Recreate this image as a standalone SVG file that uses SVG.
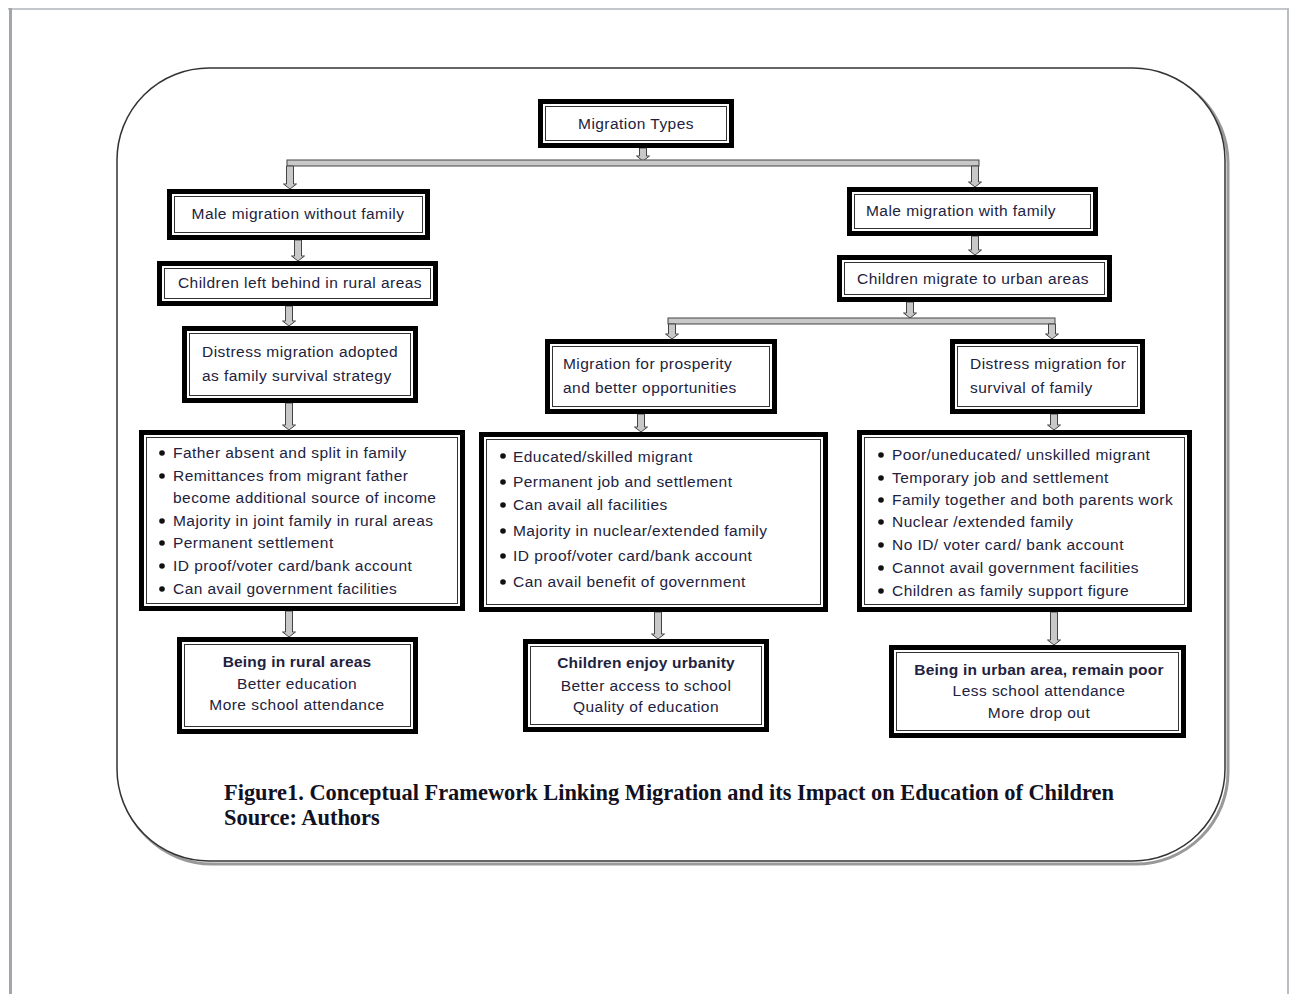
<svg xmlns="http://www.w3.org/2000/svg" width="1290" height="994" viewBox="0 0 1290 994">
<style>
.o{fill:#fff;stroke:#000;stroke-width:5}
.i{fill:none;stroke:#333;stroke-width:1}
.t{font-family:"Liberation Sans",Arial,sans-serif;font-size:15.5px;letter-spacing:0.45px;fill:#22223e}
.c{text-anchor:middle}
.b{font-weight:bold;letter-spacing:0.2px}
.ar{fill:#c8c8c8;stroke:#444;stroke-width:1}
.cap{font-family:"Liberation Serif","Times New Roman",serif;font-weight:bold;font-size:22.4px;fill:#111122}
.dot{fill:#111}
</style>
<rect x="0" y="0" width="1290" height="994" fill="#fff"/>
<g id="page">
<rect x="8" y="8" width="1281" height="2" fill="#c3c6ca"/>
<rect x="9" y="8" width="3" height="986" fill="#a2a6ab"/>
<rect x="1287" y="8" width="2" height="986" fill="#b9bcc0"/>
<rect x="120" y="71" width="1108" height="793" rx="92" ry="92" fill="none" stroke="#999" stroke-width="3"/>
<rect x="117" y="68" width="1108" height="793" rx="92" ry="92" fill="#fff" stroke="#333" stroke-width="1.5"/>
</g>
<g id="connectors">
<path class="ar" d="M639.5,148 L646.5,148 L646.5,156 L649.5,156 L643,161 L636.5,156 L639.5,156 Z"/>
<rect class="ar" x="287" y="160" width="692" height="6"/>
<path class="ar" d="M286.5,166 L293.5,166 L293.5,184 L296.5,184 L290,189 L283.5,184 L286.5,184 Z"/>
<path class="ar" d="M971.5,166 L978.5,166 L978.5,182 L981.5,182 L975,187 L968.5,182 L971.5,182 Z"/>
<path class="ar" d="M294.5,240 L301.5,240 L301.5,256 L304.5,256 L298,261 L291.5,256 L294.5,256 Z"/>
<path class="ar" d="M971.5,236 L978.5,236 L978.5,250 L981.5,250 L975,255 L968.5,250 L971.5,250 Z"/>
<path class="ar" d="M285.5,306 L292.5,306 L292.5,321 L295.5,321 L289,326 L282.5,321 L285.5,321 Z"/>
<path class="ar" d="M906.5,302 L913.5,302 L913.5,313 L916.5,313 L910,318 L903.5,313 L906.5,313 Z"/>
<rect class="ar" x="668" y="318" width="387" height="6"/>
<path class="ar" d="M668.5,324 L675.5,324 L675.5,334 L678.5,334 L672,339 L665.5,334 L668.5,334 Z"/>
<path class="ar" d="M1048.5,324 L1055.5,324 L1055.5,334 L1058.5,334 L1052,339 L1045.5,334 L1048.5,334 Z"/>
<path class="ar" d="M285.5,403 L292.5,403 L292.5,425 L295.5,425 L289,430 L282.5,425 L285.5,425 Z"/>
<path class="ar" d="M637.5,414 L644.5,414 L644.5,427 L647.5,427 L641,432 L634.5,427 L637.5,427 Z"/>
<path class="ar" d="M1050.5,414 L1057.5,414 L1057.5,425 L1060.5,425 L1054,430 L1047.5,425 L1050.5,425 Z"/>
<path class="ar" d="M285.5,611 L292.5,611 L292.5,632 L295.5,632 L289,637 L282.5,632 L285.5,632 Z"/>
<path class="ar" d="M654.5,612 L661.5,612 L661.5,634 L664.5,634 L658,639 L651.5,634 L654.5,634 Z"/>
<path class="ar" d="M1050.5,612 L1057.5,612 L1057.5,640 L1060.5,640 L1054,645 L1047.5,640 L1050.5,640 Z"/>
</g>
<g id="migration-types">
<rect class="o" x="540.5" y="101.5" width="191" height="44"/><rect class="i" x="545.5" y="106.5" width="181" height="34"/>
<text class="t c" x="636" y="129">Migration Types</text>
</g>
<g id="male-without-family">
<rect class="o" x="169.5" y="191.5" width="258" height="46"/><rect class="i" x="174.5" y="196.5" width="248" height="36"/>
<text class="t c" x="298" y="219">Male migration without family</text>
</g>
<g id="male-with-family">
<rect class="o" x="849.5" y="189.5" width="246" height="44"/><rect class="i" x="854.5" y="194.5" width="236" height="34"/>
<text class="t" x="866" y="216">Male migration with family</text>
</g>
<g id="children-left-behind">
<rect class="o" x="159.5" y="263.5" width="276" height="40"/><rect class="i" x="164.5" y="268.5" width="266" height="30"/>
<text class="t c" x="300" y="288">Children left behind in rural areas</text>
</g>
<g id="children-migrate">
<rect class="o" x="839.5" y="257.5" width="270" height="42"/><rect class="i" x="844.5" y="262.5" width="260" height="32"/>
<text class="t c" x="973" y="284">Children migrate to urban areas</text>
</g>
<g id="distress-survival-strategy">
<rect class="o" x="184.5" y="328.5" width="231" height="72"/><rect class="i" x="189.5" y="333.5" width="221" height="62"/>
<text class="t" x="202" y="357">Distress migration adopted</text>
<text class="t" x="202" y="381">as family survival strategy</text>
</g>
<g id="prosperity">
<rect class="o" x="547.5" y="341.5" width="227" height="70"/><rect class="i" x="552.5" y="346.5" width="217" height="60"/>
<text class="t" x="563" y="369">Migration for prosperity</text>
<text class="t" x="563" y="393">and better opportunities</text>
</g>
<g id="distress-family">
<rect class="o" x="952.5" y="341.5" width="190" height="70"/><rect class="i" x="957.5" y="346.5" width="180" height="60"/>
<text class="t" x="970" y="369">Distress migration for</text>
<text class="t" x="970" y="393">survival of family</text>
</g>
<g id="rural-features">
<rect class="o" x="141.5" y="432.5" width="321" height="176"/><rect class="i" x="146.5" y="437.5" width="311" height="166"/>
<circle class="dot" cx="162" cy="453" r="2.8"/><text class="t" x="173" y="458">Father absent and split in family</text>
<circle class="dot" cx="162" cy="476" r="2.8"/><text class="t" x="173" y="481">Remittances from migrant father</text>
<text class="t" x="173" y="503">become additional source of income</text>
<circle class="dot" cx="162" cy="521" r="2.8"/><text class="t" x="173" y="526">Majority in joint family in rural areas</text>
<circle class="dot" cx="162" cy="543" r="2.8"/><text class="t" x="173" y="548">Permanent settlement</text>
<circle class="dot" cx="162" cy="566" r="2.8"/><text class="t" x="173" y="571">ID proof/voter card/bank account</text>
<circle class="dot" cx="162" cy="589" r="2.8"/><text class="t" x="173" y="594">Can avail government facilities</text>
</g>
<g id="prosperity-features">
<rect class="o" x="481.5" y="434.5" width="344" height="175"/><rect class="i" x="486.5" y="439.5" width="334" height="165"/>
<circle class="dot" cx="503" cy="456" r="2.8"/><text class="t" x="513" y="462">Educated/skilled migrant</text>
<circle class="dot" cx="503" cy="482" r="2.8"/><text class="t" x="513" y="487">Permanent job and settlement</text>
<circle class="dot" cx="503" cy="505" r="2.8"/><text class="t" x="513" y="510">Can avail all facilities</text>
<circle class="dot" cx="503" cy="531" r="2.8"/><text class="t" x="513" y="536">Majority in nuclear/extended family</text>
<circle class="dot" cx="503" cy="556" r="2.8"/><text class="t" x="513" y="561">ID proof/voter card/bank account</text>
<circle class="dot" cx="503" cy="582" r="2.8"/><text class="t" x="513" y="587">Can avail benefit of government</text>
</g>
<g id="distress-features">
<rect class="o" x="859.5" y="432.5" width="330" height="177"/><rect class="i" x="864.5" y="437.5" width="320" height="167"/>
<circle class="dot" cx="881" cy="455" r="2.8"/><text class="t" x="892" y="460">Poor/uneducated/ unskilled migrant</text>
<circle class="dot" cx="881" cy="478" r="2.8"/><text class="t" x="892" y="483">Temporary job and settlement</text>
<circle class="dot" cx="881" cy="500" r="2.8"/><text class="t" x="892" y="505">Family together and both parents work</text>
<circle class="dot" cx="881" cy="522" r="2.8"/><text class="t" x="892" y="527">Nuclear /extended family</text>
<circle class="dot" cx="881" cy="545" r="2.8"/><text class="t" x="892" y="550">No ID/ voter card/ bank account</text>
<circle class="dot" cx="881" cy="568" r="2.8"/><text class="t" x="892" y="573">Cannot avail government facilities</text>
<circle class="dot" cx="881" cy="591" r="2.8"/><text class="t" x="892" y="596">Children as family support figure</text>
</g>
<g id="rural-outcome">
<rect class="o" x="179.5" y="639.5" width="236" height="92"/><rect class="i" x="184.5" y="644.5" width="226" height="82"/>
<text class="t c b" x="297" y="667">Being in rural areas</text>
<text class="t c" x="297" y="689">Better education</text>
<text class="t c" x="297" y="710">More school attendance</text>
</g>
<g id="urbanity-outcome">
<rect class="o" x="525.5" y="641.5" width="241" height="88"/><rect class="i" x="530.5" y="646.5" width="231" height="78"/>
<text class="t c b" x="646" y="668">Children enjoy urbanity</text>
<text class="t c" x="646" y="691">Better access to school</text>
<text class="t c" x="646" y="712">Quality of education</text>
</g>
<g id="urban-poor-outcome">
<rect class="o" x="891.5" y="647.5" width="292" height="88"/><rect class="i" x="896.5" y="652.5" width="282" height="78"/>
<text class="t c b" x="1039" y="675">Being in urban area, remain poor</text>
<text class="t c" x="1039" y="696">Less school attendance</text>
<text class="t c" x="1039" y="718">More drop out</text>
</g>
<g id="caption">
<text class="cap" x="224" y="800">Figure1. Conceptual Framework Linking Migration and its Impact on Education of Children</text>
<text class="cap" x="224" y="825">Source: Authors</text>
</g>
</svg>
